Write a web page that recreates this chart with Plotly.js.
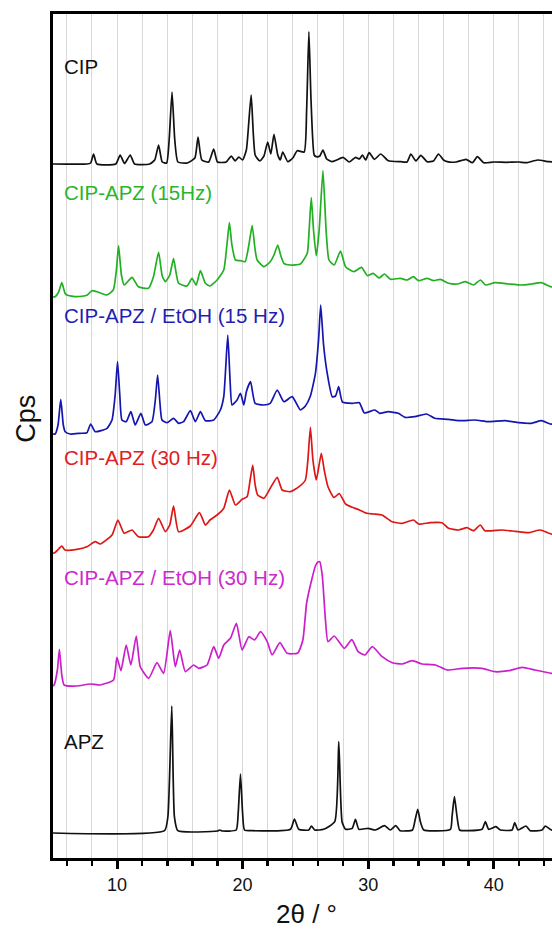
<!DOCTYPE html>
<html>
<head>
<meta charset="utf-8">
<script src="https://cdn.plot.ly/plotly-3.0.1.min.js"></script>
<style>
  html, body { margin: 0; padding: 0; background: #ffffff; overflow: hidden; }
  #chart { width: 560px; height: 930px; }
</style>
</head>
<body>
<div id="chart"></div>
<script>
// Powder X-ray diffraction patterns, stacked (2θ in degrees, intensity in arbitrary cps units)

const cipTheta = [4.9, 7.6, 7.9, 8.13, 8.4, 9.9, 10.25, 10.6, 11.05, 11.4, 12.6, 13.0, 13.31, 13.6, 13.95, 14.15, 14.38, 14.6, 14.85, 15.6, 16.2, 16.45, 16.75, 17.3, 17.7, 18.0, 18.7, 19.1, 19.4, 19.7, 20.0, 20.3, 20.68, 21.0, 21.37, 21.7, 22.0, 22.25, 22.5, 22.8, 23.0, 23.2, 23.6, 24.0, 24.35, 24.9, 25.1, 25.28, 25.45, 25.7, 25.87, 26.15, 26.4, 26.7, 27.1, 27.5, 28.0, 28.5, 29.0, 29.3, 29.55, 29.8, 30.08, 30.5, 31.0, 31.6, 32.6, 33.1, 33.4, 33.8, 34.2, 34.7, 35.2, 35.6, 36.0, 36.3, 37.0, 37.8, 38.3, 38.7, 39.2, 40.0, 41.0, 42.0, 42.6, 43.5, 44.4, 45.2];
const cipCps   = [0, 0, 1, 10, 0, 0, 9, 0.5, 9, 0, 0, 4, 19, 2, 1, 24, 72, 24, 2, 1, 6, 27, 4, 2, 15, 2, 2, 8, 3, 7, 4, 14, 69, 9, 3, 8, 22, 10, 29.7, 9, 4, 12, 2.3, 6, 13.3, 12, 54, 132.3, 64, 9, 7.3, 8, 14, 5, 2.3, 4, 6.7, 2, 6.7, 5, 9, 4, 11.3, 4.7, 10, 3.3, 2.3, 2, 10, 3, 8.7, 2.3, 3, 10, 4, 2.3, 2, 4.7, 1.3, 7.3, 1.3, 2, 1.7, 2, 1.3, 4, 2.3, 2];

const cipApz15Theta = [4.9, 5.07, 5.35, 5.6, 5.85, 6.0, 6.8, 7.6, 8.0, 8.4, 9.2, 9.7, 9.95, 10.12, 10.35, 10.57, 11.19, 11.7, 12.5, 12.9, 13.31, 13.6, 13.85, 14.2, 14.5, 14.9, 15.57, 15.97, 16.3, 16.64, 17.04, 17.4, 17.97, 18.5, 18.75, 18.95, 19.15, 19.43, 19.83, 20.2, 20.5, 20.76, 21.0, 21.16, 21.7, 22.2, 22.5, 22.8, 23.05, 23.29, 23.8, 24.6, 25.15, 25.3, 25.47, 25.65, 25.87, 26.1, 26.4, 26.65, 26.88, 27.3, 27.8, 28.2, 28.87, 29.47, 29.94, 30.4, 30.87, 31.3, 31.77, 32.57, 33.1, 33.6, 34.0, 34.7, 35.2, 35.75, 36.4, 37.1, 37.75, 38.4, 38.95, 39.35, 40.1, 41.2, 42.2, 43.0, 43.8, 44.5, 45.2];
const cipApz15Cps   = [0, 0.3, 5, 14.3, 4, 2, 0.3, 1.7, 6.3, 5.3, 2, 7, 27, 51.3, 22, 12, 19.7, 10.3, 8.7, 20.3, 44.7, 21, 15.3, 22, 38.3, 13.7, 11, 18.7, 12, 26.3, 13.7, 11, 17, 27, 52, 74.3, 52, 37, 36.3, 35.3, 52, 71.3, 47, 37, 30.3, 35.3, 42, 52, 41, 33.7, 32, 33, 43.7, 67, 99.3, 67, 41, 67, 126.3, 67, 37, 32, 46, 30.3, 25.3, 29.7, 21.3, 23.7, 19, 23, 17.7, 18.7, 17, 20.3, 16.3, 18.7, 16.3, 17.7, 13.7, 13, 15.3, 12, 17, 12, 14.3, 13, 12, 13, 14.3, 10.3, 10];

const cipApzEtOH15Theta = [4.9, 5.07, 5.3, 5.52, 5.72, 5.87, 6.27, 7.06, 7.6, 7.9, 8.26, 9.2, 9.6, 9.85, 10.04, 10.22, 10.39, 10.73, 11.1, 11.45, 11.9, 12.25, 12.78, 13.05, 13.23, 13.4, 13.58, 13.98, 14.5, 14.9, 15.3, 15.84, 16.24, 16.64, 17.04, 17.7, 18.23, 18.5, 18.82, 19.0, 19.16, 19.56, 19.83, 20.1, 20.3, 20.63, 21.0, 21.7, 22.2, 22.76, 23.29, 23.95, 24.6, 25.0, 25.4, 25.8, 26.05, 26.22, 26.45, 26.74, 27.14, 27.4, 27.65, 27.95, 28.74, 29.3, 29.7, 30.53, 30.92, 31.6, 32.4, 32.93, 33.72, 34.65, 35.3, 36.4, 37.4, 38.5, 39.6, 40.9, 42.0, 43.0, 43.8, 44.5, 45.2];
const cipApzEtOH15Cps   = [0, 0, 9, 34.7, 9, 2.3, 0, 0.7, 1.3, 10, 2.3, 5.7, 14, 39, 72.3, 39, 14, 12.3, 22.3, 9, 20.7, 9, 12.3, 34, 59, 34, 14, 11.3, 15.7, 10.7, 12.3, 23.3, 12.3, 22.3, 13.3, 14, 24, 37.3, 99, 54, 29, 34, 40.7, 29, 42.3, 52.3, 30.7, 29, 30.7, 44, 32.3, 37.3, 24, 28, 38, 60.7, 94, 129, 89, 60.7, 37.3, 38, 47.3, 32, 30.7, 31.3, 21, 24, 20.7, 22.3, 20.7, 16.7, 17.3, 20, 15.7, 14.7, 13.3, 14, 12.3, 13.3, 11.3, 10.7, 13.3, 10, 10];

const cipApz30Theta = [4.9, 5.0, 5.35, 5.6, 5.85, 6.8, 7.6, 8.26, 8.66, 9.6, 10.07, 10.57, 11.19, 11.7, 12.5, 12.9, 13.31, 13.85, 14.2, 14.5, 14.9, 15.84, 16.56, 17.04, 17.4, 17.97, 18.5, 18.95, 19.43, 19.96, 20.36, 20.6, 20.81, 21.0, 21.2, 21.7, 22.2, 22.76, 23.15, 23.8, 24.5, 25.0, 25.2, 25.4, 25.6, 25.87, 26.27, 26.5, 26.8, 27.28, 27.7, 28.2, 28.74, 29.27, 29.9, 30.43, 31.1, 31.9, 32.7, 33.62, 34.02, 34.95, 35.88, 36.4, 37.2, 37.87, 38.4, 38.93, 39.3, 40.65, 41.7, 42.76, 43.7, 44.57, 45.2];
const cipApz30Cps   = [0, 0, 4, 7, 3, 3.7, 6.3, 11.3, 9, 18, 33, 19.7, 23, 16.3, 16.3, 23, 34.7, 21.3, 28, 47, 21.3, 27, 40.3, 28, 33, 38, 44.7, 63, 48, 53.7, 56.3, 73, 88, 68, 58, 54.7, 64.7, 75.7, 63, 61.3, 66.3, 73, 93, 125.7, 93, 73, 99.7, 83, 66.3, 55.5, 59.5, 49, 45.7, 43.3, 39.7, 39, 38, 31.3, 29.7, 33, 29, 30.3, 30.3, 24.7, 23, 25.3, 22.3, 28, 22.3, 23, 21.7, 20.3, 23, 19, 19];

const cipApzEtOH30Theta = [4.9, 4.99, 5.25, 5.41, 5.6, 5.79, 6.8, 7.86, 8.66, 9.72, 9.99, 10.31, 10.73, 11.1, 11.53, 11.85, 12.52, 13.18, 13.71, 14.24, 14.64, 14.99, 15.44, 16.1, 16.5, 17.17, 17.7, 18.1, 18.5, 19.03, 19.51, 19.96, 20.5, 20.95, 21.43, 21.96, 22.36, 22.97, 23.55, 24.4, 24.8, 25.1, 25.5, 25.8, 26.0, 26.15, 26.35, 26.6, 26.8, 27.3, 28.1, 28.7, 29.2, 29.74, 30.33, 31.12, 31.92, 32.7, 33.5, 34.3, 35.36, 36.3, 37.5, 39.07, 40.1, 41.2, 42.26, 43.3, 44.57, 45.2];
const cipApzEtOH30Cps   = [0, 1, 16, 36.7, 11, 1, 0, 2, 1, 6, 28.7, 15.3, 41, 21, 50, 19.3, 7.7, 23.3, 12.7, 55.3, 19.3, 36, 14.3, 21, 17.7, 21, 39.3, 27.7, 41, 47.7, 62.7, 36, 49.3, 46, 54.3, 44.3, 31, 43.3, 32.7, 33, 46, 83, 106, 120, 124, 124.3, 110, 66, 44.3, 50, 37.7, 46.3, 34.3, 31, 39.3, 29.3, 23.3, 22, 25.3, 22, 21, 16, 17.7, 17.7, 14.3, 15.3, 18.7, 16, 12.7, 13];

const apzTheta = [4.9, 13.78, 14.05, 14.36, 14.57, 14.84, 18.0, 18.16, 18.4, 19.49, 19.65, 19.83, 20.0, 20.15, 20.8, 23.81, 24.13, 24.47, 25.27, 25.48, 25.75, 26.46, 27.34, 27.66, 27.92, 28.2, 28.73, 28.99, 29.26, 30.0, 30.57, 31.31, 31.76, 32.2, 32.55, 33.53, 33.74, 33.95, 34.16, 34.43, 36.55, 36.68, 36.87, 37.08, 37.29, 38.0, 39.07, 39.33, 39.6, 40.18, 40.53, 41.46, 41.67, 41.94, 42.57, 42.9, 43.85, 44.1, 44.6, 45.2];
const apzCps   = [0, 2.3, 16.3, 127, 16.3, 2.3, 2, 3, 2, 3, 20, 59, 20, 3, 2.3, 3.7, 14, 3.7, 3, 7, 3, 3.7, 11.3, 91.3, 11.3, 3.7, 4.7, 13.7, 3.7, 4.7, 3, 7.3, 3, 7.3, 2.3, 3, 13, 23.7, 11.3, 3, 3.7, 16.3, 36.3, 16.3, 3, 2.3, 3.7, 11.3, 3.7, 6.3, 3, 3, 10.3, 3, 7, 2.3, 3, 7, 3, 3];

const sampleNames = ["CIP", "CIP-APZ (15Hz)", "CIP-APZ / EtOH (15 Hz)", "CIP-APZ (30 Hz)", "CIP-APZ / EtOH (30 Hz)", "APZ"];
const stackOffsets = [694, 561, 424, 305, 172, 25];
const xTickValues = [10, 20, 30, 40];

// drawing styles
const lineColors  = ["#111111", "#22b022", "#1515b0", "#dd1616", "#cc1fcc", "#111111"];
const labelColors = ["#111111", "#2bb52b", "#1f1fb0", "#e02020", "#cc2acc", "#111111"];
const labelY = [792, 666, 543, 401, 281, 117];

const thetaSets = [cipTheta, cipApz15Theta, cipApzEtOH15Theta, cipApz30Theta, cipApzEtOH30Theta, apzTheta];
const cpsSets   = [cipCps, cipApz15Cps, cipApzEtOH15Cps, cipApz30Cps, cipApzEtOH30Cps, apzCps];

const traces = sampleNames.map((name, i) => ({
  type: "scatter",
  mode: "lines",
  name: name,
  x: thetaSets[i],
  y: cpsSets[i].map(v => v + stackOffsets[i]),
  line: { color: lineColors[i], width: 1.7, shape: "spline", smoothing: 0.5 },
  hoverinfo: "skip"
}));

const font = "Liberation Sans, Arial, sans-serif";

const annotations = sampleNames.map((name, i) => ({
  text: name,
  xref: "x", yref: "y",
  x: 5.62, y: labelY[i],
  xanchor: "left", yanchor: "middle",
  showarrow: false,
  font: { family: font, size: 20.5, color: labelColors[i] }
}));

annotations.push({
  text: "Cps",
  xref: "paper", yref: "paper",
  x: -0.054, y: 0.52,
  xanchor: "center", yanchor: "middle",
  textangle: -90,
  showarrow: false,
  font: { family: font, size: 27, color: "#111111" }
});
annotations.push({
  text: "2θ / °",
  xref: "paper", yref: "paper",
  x: 0.5, y: -0.066,
  xanchor: "center", yanchor: "middle",
  showarrow: false,
  font: { family: font, size: 26, color: "#111111" }
});

const layout = {
  width: 560,
  height: 930,
  margin: { l: 53, r: 1, t: 14, b: 72 },
  paper_bgcolor: "#ffffff",
  plot_bgcolor: "#ffffff",
  showlegend: false,
  xaxis: {
    range: [4.9, 45.2],
    tickvals: xTickValues,
    ticktext: xTickValues.map(String),
    ticks: "outside",
    ticklen: 8,
    tickwidth: 3,
    tickcolor: "#000000",
    tickfont: { family: font, size: 18, color: "#111111" },
    showline: true,
    linewidth: 3,
    linecolor: "#000000",
    mirror: true,
    showgrid: true,
    gridcolor: "#d8d8d8",
    gridwidth: 1,
    zeroline: false,
    minor: {
      dtick: 2,
      tick0: 0,
      ticks: "outside",
      ticklen: 5,
      tickwidth: 2.5,
      tickcolor: "#000000",
      showgrid: true,
      gridcolor: "#d8d8d8",
      gridwidth: 1
    }
  },
  yaxis: {
    range: [0, 844],
    showticklabels: false,
    ticks: "",
    showline: true,
    linewidth: 3,
    linecolor: "#000000",
    mirror: true,
    showgrid: false,
    zeroline: false
  },
  annotations: annotations
};

Plotly.newPlot("chart", traces, layout, { staticPlot: true, displayModeBar: false });
</script>
</body>
</html>
